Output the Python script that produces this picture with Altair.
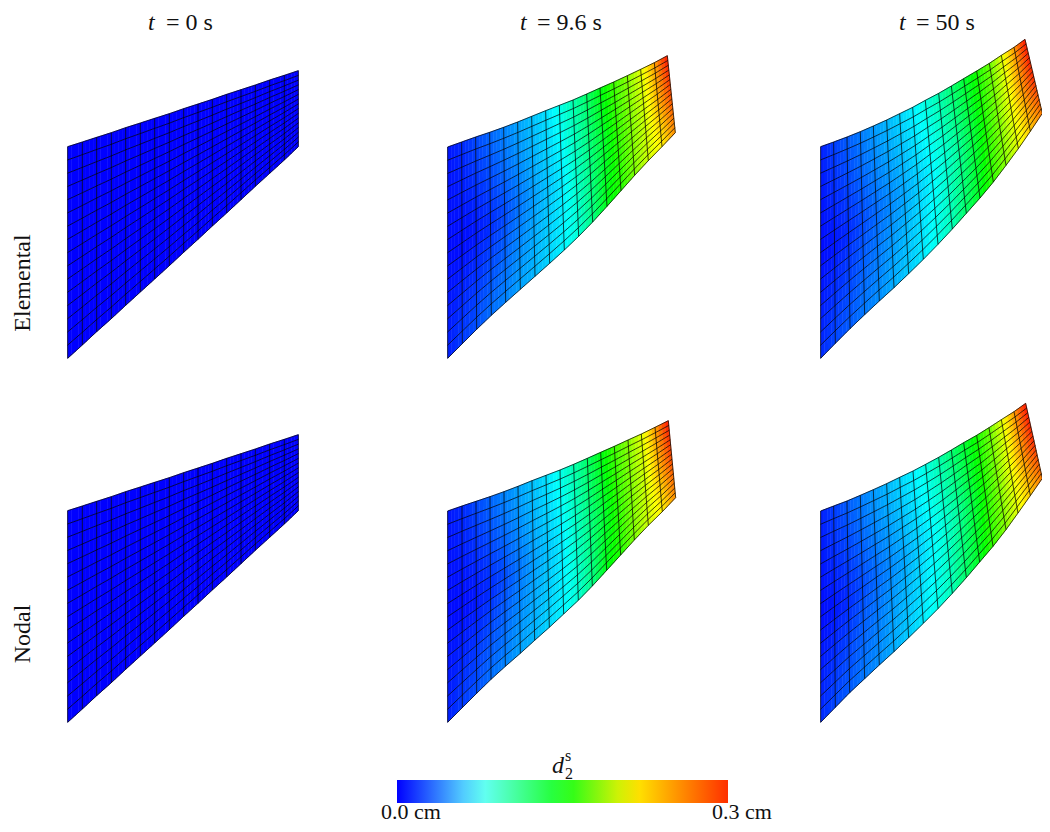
import altair as alt
import pandas as pd

ORIGIN_T0 = (40, 50)
T0_TOP_X = [83, 127, 170, 214, 257, 301, 344, 388, 431, 474, 517, 560, 603, 646, 689, 733, 775]
T0_TOP_Y = [290, 276, 262, 248, 233, 219, 205, 191, 176, 162, 148, 133, 119, 105, 90, 76, 62]
T0_BOT_X = T0_TOP_X
T0_BOT_Y = [925, 885, 845, 806, 766, 726, 687, 647, 607, 568, 528, 489, 449, 409, 370, 330, 290]

ORIGIN_E96 = (430, 40)
E96_TOP_X = [53, 95, 137, 179, 221, 263, 305, 347, 388, 429, 470, 510, 551, 592, 632, 673, 712]
E96_TOP_Y = [321, 306, 291, 277, 262, 246, 229, 212, 196, 180, 162, 144, 126, 107, 88, 68, 47]
E96_BOT_X = [53, 97, 140, 184, 227, 271, 315, 359, 403, 446, 488, 531, 573, 614, 655, 696, 736]
E96_BOT_Y = [955, 911, 868, 826, 787, 748, 709, 670, 630, 589, 546, 499, 452, 406, 362, 320, 278]

# third column sits 7 px left of the reference so that its tip stays inside the page
ORIGIN_E50 = (803, 30)
E50_TOP_X = [53, 92, 132, 172, 211, 251, 290, 329, 367, 407, 445, 482, 521, 559, 595, 633, 666]
E50_TOP_Y = [350, 336, 321, 305, 288, 270, 251, 232, 211, 190, 168, 146, 123, 100, 76, 52, 28]
E50_BOT_X = [53, 97, 141, 185, 229, 273, 317, 361, 405, 448, 490, 531, 571, 609, 646, 682, 718]
E50_BOT_Y = [985, 940, 896, 854, 813, 773, 731, 688, 643, 597, 550, 504, 456, 406, 356, 304, 250]

ORIGIN_N96 = (430, 405)
N96_TOP_X = [53, 96, 138, 180, 222, 264, 306, 348, 390, 431, 472, 512, 553, 594, 634, 675, 715]
N96_TOP_Y = [318, 303, 289, 275, 260, 244, 227, 211, 195, 178, 160, 142, 124, 105, 87, 67, 47]
N96_BOT_X = [53, 97, 140, 183, 226, 271, 314, 358, 401, 445, 487, 530, 572, 613, 655, 697, 737]
N96_BOT_Y = [952, 908, 865, 823, 784, 745, 706, 667, 627, 586, 543, 496, 450, 405, 361, 320, 278]

ORIGIN_N50 = (803, 395)
N50_TOP_X = [53, 92, 132, 172, 211, 251, 290, 330, 368, 407, 445, 482, 521, 558, 595, 633, 668]
N50_TOP_Y = [348, 333, 318, 301, 284, 266, 247, 228, 208, 187, 165, 143, 121, 98, 74, 50, 25]
N50_BOT_X = [53, 97, 140, 185, 229, 273, 317, 361, 405, 448, 490, 530, 570, 609, 645, 682, 718]
N50_BOT_Y = [982, 937, 893, 851, 810, 770, 728, 685, 641, 595, 548, 501, 454, 404, 354, 302, 250]

NODAL_T0_SHIFT = 364
CHORD = [0, .0625, .125, .1875, .25, .3125, .375, .4375, .5, .5625, .625, .6875, .75, .8125, .875, .9375, 1]

# Displacement d2s (fraction of the 0.3 cm colour range) along upper edge, mid chord, lower edge.
T0_D = [0.0] * 17
T96_D_TOP = [.02, .04, .07, .10, .13, .16, .19, .22, .27, .33, .40, .48, .56, .63, .72, .84, .98]
T96_D_MID = [.01, .01, .02, .04, .07, .11, .15, .19, .23, .30, .37, .45, .54, .62, .70, .82, .93]
T96_D_BOT = [.03, .06, .08, .11, .13, .16, .18, .21, .24, .29, .37, .48, .53, .62, .70, .76, .86]
T50_D_TOP = [.03, .06, .09, .12, .15, .18, .21, .24, .28, .33, .39, .45, .52, .60, .72, .85, .98]
T50_D_MID = [.01, .02, .04, .07, .10, .13, .16, .20, .24, .29, .35, .43, .52, .62, .73, .85, .96]
T50_D_BOT = [.04, .07, .09, .12, .14, .17, .20, .23, .27, .32, .40, .47, .55, .63, .72, .80, .88]

MESH_DOMAIN = [0, .075, .15, .225, .3]
MESH_COLORS = ['#0000ff', '#00ffff', '#00ff00', '#ffff00', '#ff0000']
BAR_DOMAIN = [0, .075, .153, .213, .3]
BAR_COLORS = ['#0000ff', '#66ffff', '#1aff1a', '#ffee00', '#ff3000']
BAR_ENDS = [0, .3]

PAGE = 8


def px(origin, xs, ys, dy=0):
    return [((origin[0] + x / 3) - PAGE, (origin[1] + y / 3) - PAGE + dy) for x, y in zip(xs, ys)]


PANELS = [
    (px(ORIGIN_T0, T0_TOP_X, T0_TOP_Y), px(ORIGIN_T0, T0_BOT_X, T0_BOT_Y), T0_D, T0_D, T0_D),
    (px(ORIGIN_E96, E96_TOP_X, E96_TOP_Y), px(ORIGIN_E96, E96_BOT_X, E96_BOT_Y), T96_D_TOP, T96_D_MID, T96_D_BOT),
    (px(ORIGIN_E50, E50_TOP_X, E50_TOP_Y), px(ORIGIN_E50, E50_BOT_X, E50_BOT_Y), T50_D_TOP, T50_D_MID, T50_D_BOT),
    (px(ORIGIN_T0, T0_TOP_X, T0_TOP_Y, NODAL_T0_SHIFT), px(ORIGIN_T0, T0_BOT_X, T0_BOT_Y, NODAL_T0_SHIFT), T0_D, T0_D, T0_D),
    (px(ORIGIN_N96, N96_TOP_X, N96_TOP_Y), px(ORIGIN_N96, N96_BOT_X, N96_BOT_Y), T96_D_TOP, T96_D_MID, T96_D_BOT),
    (px(ORIGIN_N50, N50_TOP_X, N50_TOP_Y), px(ORIGIN_N50, N50_BOT_X, N50_BOT_Y), T50_D_TOP, T50_D_MID, T50_D_BOT),
]

SUB = 4
fills, lines = [], []


def node(top, bot, s, c):
    i = min(int(s), 15)
    f = s - i
    tx = top[i][0] + f * (top[i + 1][0] - top[i][0])
    ty = top[i][1] + f * (top[i + 1][1] - top[i][1])
    bx = bot[i][0] + f * (bot[i + 1][0] - bot[i][0])
    by = bot[i][1] + f * (bot[i + 1][1] - bot[i][1])
    return [round(tx + c * (bx - tx), 2), round(ty + c * (by - ty), 2)]


def field(dt, dm, db, s, c):
    i = min(int(s), 15)
    f = s - i
    a = dt[i] + f * (dt[i + 1] - dt[i])
    m = dm[i] + f * (dm[i + 1] - dm[i])
    b = db[i] + f * (db[i + 1] - db[i])
    return (a + (m - a) * c * 2) if c <= .5 else (m + (b - m) * (c - .5) * 2)


for top, bot, dt, dm, db in PANELS:
    for k in range(16):
        c0, c1 = CHORD[k], CHORD[k + 1]
        for j in range(16 * SUB):
            s0, s1 = j / SUB, (j + 1) / SUB
            ring = [node(top, bot, s0, c0), node(top, bot, s1, c0), node(top, bot, s1, c1),
                    node(top, bot, s0, c1), node(top, bot, s0, c0)]
            val = .3 * field(dt, dm, db, (s0 + s1) / 2, (c0 + c1) / 2)
            fills.append({"type": "Feature", "properties": {"d": round(val, 4)},
                          "geometry": {"type": "Polygon", "coordinates": [ring]}})
    for j in range(17):
        lines.append({"type": "Feature", "properties": {},
                      "geometry": {"type": "LineString", "coordinates": [node(top, bot, j, 0), node(top, bot, j, 1)]}})
    for c in CHORD:
        lines.append({"type": "Feature", "properties": {},
                      "geometry": {"type": "LineString", "coordinates": [node(top, bot, j, c) for j in range(17)]}})

geo_fmt = alt.DataFormat(property="features", type="json")
mesh_scale = alt.Scale(domain=MESH_DOMAIN, range=MESH_COLORS, interpolate="rgb")

fill_layer = alt.Chart(alt.InlineData(values={"type": "FeatureCollection", "features": fills}, format=geo_fmt)).mark_geoshape(
    strokeWidth=0.5
).encode(
    color=alt.Color("properties.d:Q", scale=mesh_scale, legend=None),
    stroke=alt.Stroke("properties.d:Q", scale=mesh_scale, legend=None),
).project(type="identity", scale=1, translate=[0, 0])

line_layer = alt.Chart(alt.InlineData(values={"type": "FeatureCollection", "features": lines}, format=geo_fmt)).mark_geoshape(
    filled=False, stroke="#000000", strokeWidth=0.9, strokeOpacity=0.8
).project(type="identity", scale=1, translate=[0, 0])

bar_layer = alt.Chart(pd.DataFrame({"d": BAR_ENDS})).mark_point(opacity=0, filled=True).encode(
    x=alt.value(0), y=alt.value(0),
    color=alt.Color("d:Q", scale=alt.Scale(domain=BAR_DOMAIN, range=BAR_COLORS, interpolate="rgb"),
                    legend=alt.Legend(orient="none", legendX=389, legendY=772, direction="horizontal",
                                      title=None, gradientLength=331, gradientThickness=23,
                                      gradientStrokeWidth=0, values=BAR_ENDS, labelExpr="''", labelFontSize=1)),
)

SERIF = "Liberation Serif"
TEXTS = [
    ("t", 140, 22, 24, "italic", 0), ("= 0 s", 158, 22, 24, "normal", 0),
    ("t", 512, 22, 24, "italic", 0), ("= 9.6 s", 529, 22, 24, "normal", 0),
    ("t", 891, 22, 24, "italic", 0), ("= 50 s", 908, 22, 24, "normal", 0),
    ("0.0 cm", 373, 811, 22, "normal", 0), ("0.3 cm", 704, 811, 22, "normal", 0),
    ("d", 544, 765, 24, "italic", 0), ("s", 557, 753, 16, "normal", 0), ("2", 557, 771, 16, "normal", 0),
]
ROTATED = [("Elemental", 22, 275), ("Nodal", 22, 626)]

text_layers = [
    alt.Chart(pd.DataFrame({"label": [t]})).mark_text(
        align="left", baseline="alphabetic", font=SERIF, fontSize=fs, fontStyle=st, color="#111111"
    ).encode(text="label:N", x=alt.value(x), y=alt.value(y))
    for t, x, y, fs, st, _ in TEXTS
]
text_layers += [
    alt.Chart(pd.DataFrame({"label": [t]})).mark_text(
        align="center", baseline="alphabetic", angle=270, font=SERIF, fontSize=24, color="#111111"
    ).encode(text="label:N", x=alt.value(x), y=alt.value(y))
    for t, x, y in ROTATED
]

chart = alt.layer(fill_layer, line_layer, bar_layer, *text_layers).resolve_scale(color="independent").properties(
    width=1034, height=816, padding=0,
    autosize=alt.AutoSizeParams(type="none"),
    background="#ffffff",
).configure_view(stroke=None)

chart.save("out.html", embed_options={"renderer": "svg", "actions": False})
